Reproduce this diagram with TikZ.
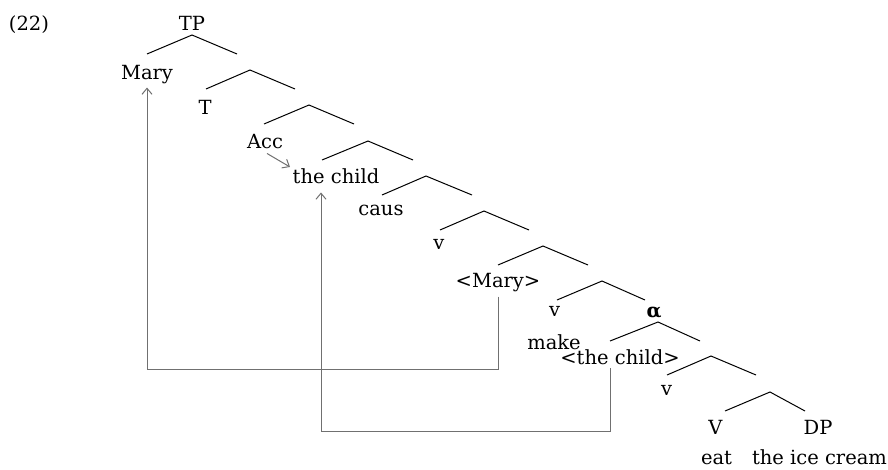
\documentclass[tikz,border=0pt]{standalone}
\usepackage{fontspec}
\setmainfont{DejaVu Serif}
\usetikzlibrary{arrows.meta,calc}
\definecolor{movegray}{HTML}{707070}
\begin{document}
\begin{tikzpicture}[x=1pt,y=-1pt,
  lbl/.style={anchor=base, inner sep=0pt, font=\fontsize{19.5}{23}\selectfont},
  branch/.style={line width=1pt, draw=black},
  move/.style={line width=1pt, draw=movegray, -{Straight Barb[length=6pt,width=10pt]}},
  trace/.style={line width=1pt, draw=movegray}]
\useasboundingbox (0,0) rectangle (888,469);

% example number
\node[lbl] (ex) at (29,30) {(22)};

% labels (x = centre, y = baseline)
\node[lbl] (tp)     at (192,30)  {TP};
\node[lbl] (mary)   at (147,79)  {Mary};
\node[lbl] (t)      at (205,114) {T};
\node[lbl] (acc)    at (265,148) {Acc};
\node[lbl] (child)  at (336,183) {the child};
\node[lbl] (caus)   at (381,215) {caus};
\node[lbl] (va)     at (439,249) {v};
\node[lbl] (mary2)  at (498,287) {<Mary>};
\node[lbl] (vb)     at (554.5,316) {v};
\node[lbl] (alpha)  at (654,317) {\textbf{α}};
\node[lbl] (make)   at (554,349) {make};
\node[lbl] (child2) at (620,364) {<the child>};
\node[lbl] (vc)     at (666.5,395) {v};
\node[lbl] (bigv)   at (715.5,434) {V};
\node[lbl] (dp)     at (818,434) {DP};
\node[lbl] (eat)    at (716.5,464) {eat};
\node[lbl] (ice)    at (819.5,464) {the ice cream};

% branching points: apex, left leg end, right leg end
\foreach \i/\ax/\ay/\lx/\rx in {
  1/192/35/147/237,
  2/250/70/206/295,
  3/309/105/264/354,
  4/368/141/322/413,
  5/426/176/382/472,
  6/484/211/440/529,
  7/543/246/498/588,
  8/602/281/557/645,
  9/658/322/610/700,
  10/711/356/667/756,
  11/770/392/725/805}{
  \coordinate (a\i) at (\ax,\ay);
  \coordinate (l\i) at (\lx,\ay+19);
  \coordinate (r\i) at (\rx,\ay+19);
  \draw[branch] (l\i) -- (a\i) -- (r\i);
}

% movement of Mary
\draw[move] ([yshift=-5pt]mary2.south) -- ++(0,73) -| ([yshift=-4pt]mary.south);
% movement of the child
\draw[move] ([xshift=-10pt,yshift=-4pt]child2.south) -- ++(0,63) -| ([xshift=-15pt,yshift=-9pt]child.south);
% case assignment
\draw[move] ([shift={(2pt,-5pt)}]acc.south) -- ([shift={(-46pt,1pt)}]child.north);
\end{tikzpicture}
\end{document}
